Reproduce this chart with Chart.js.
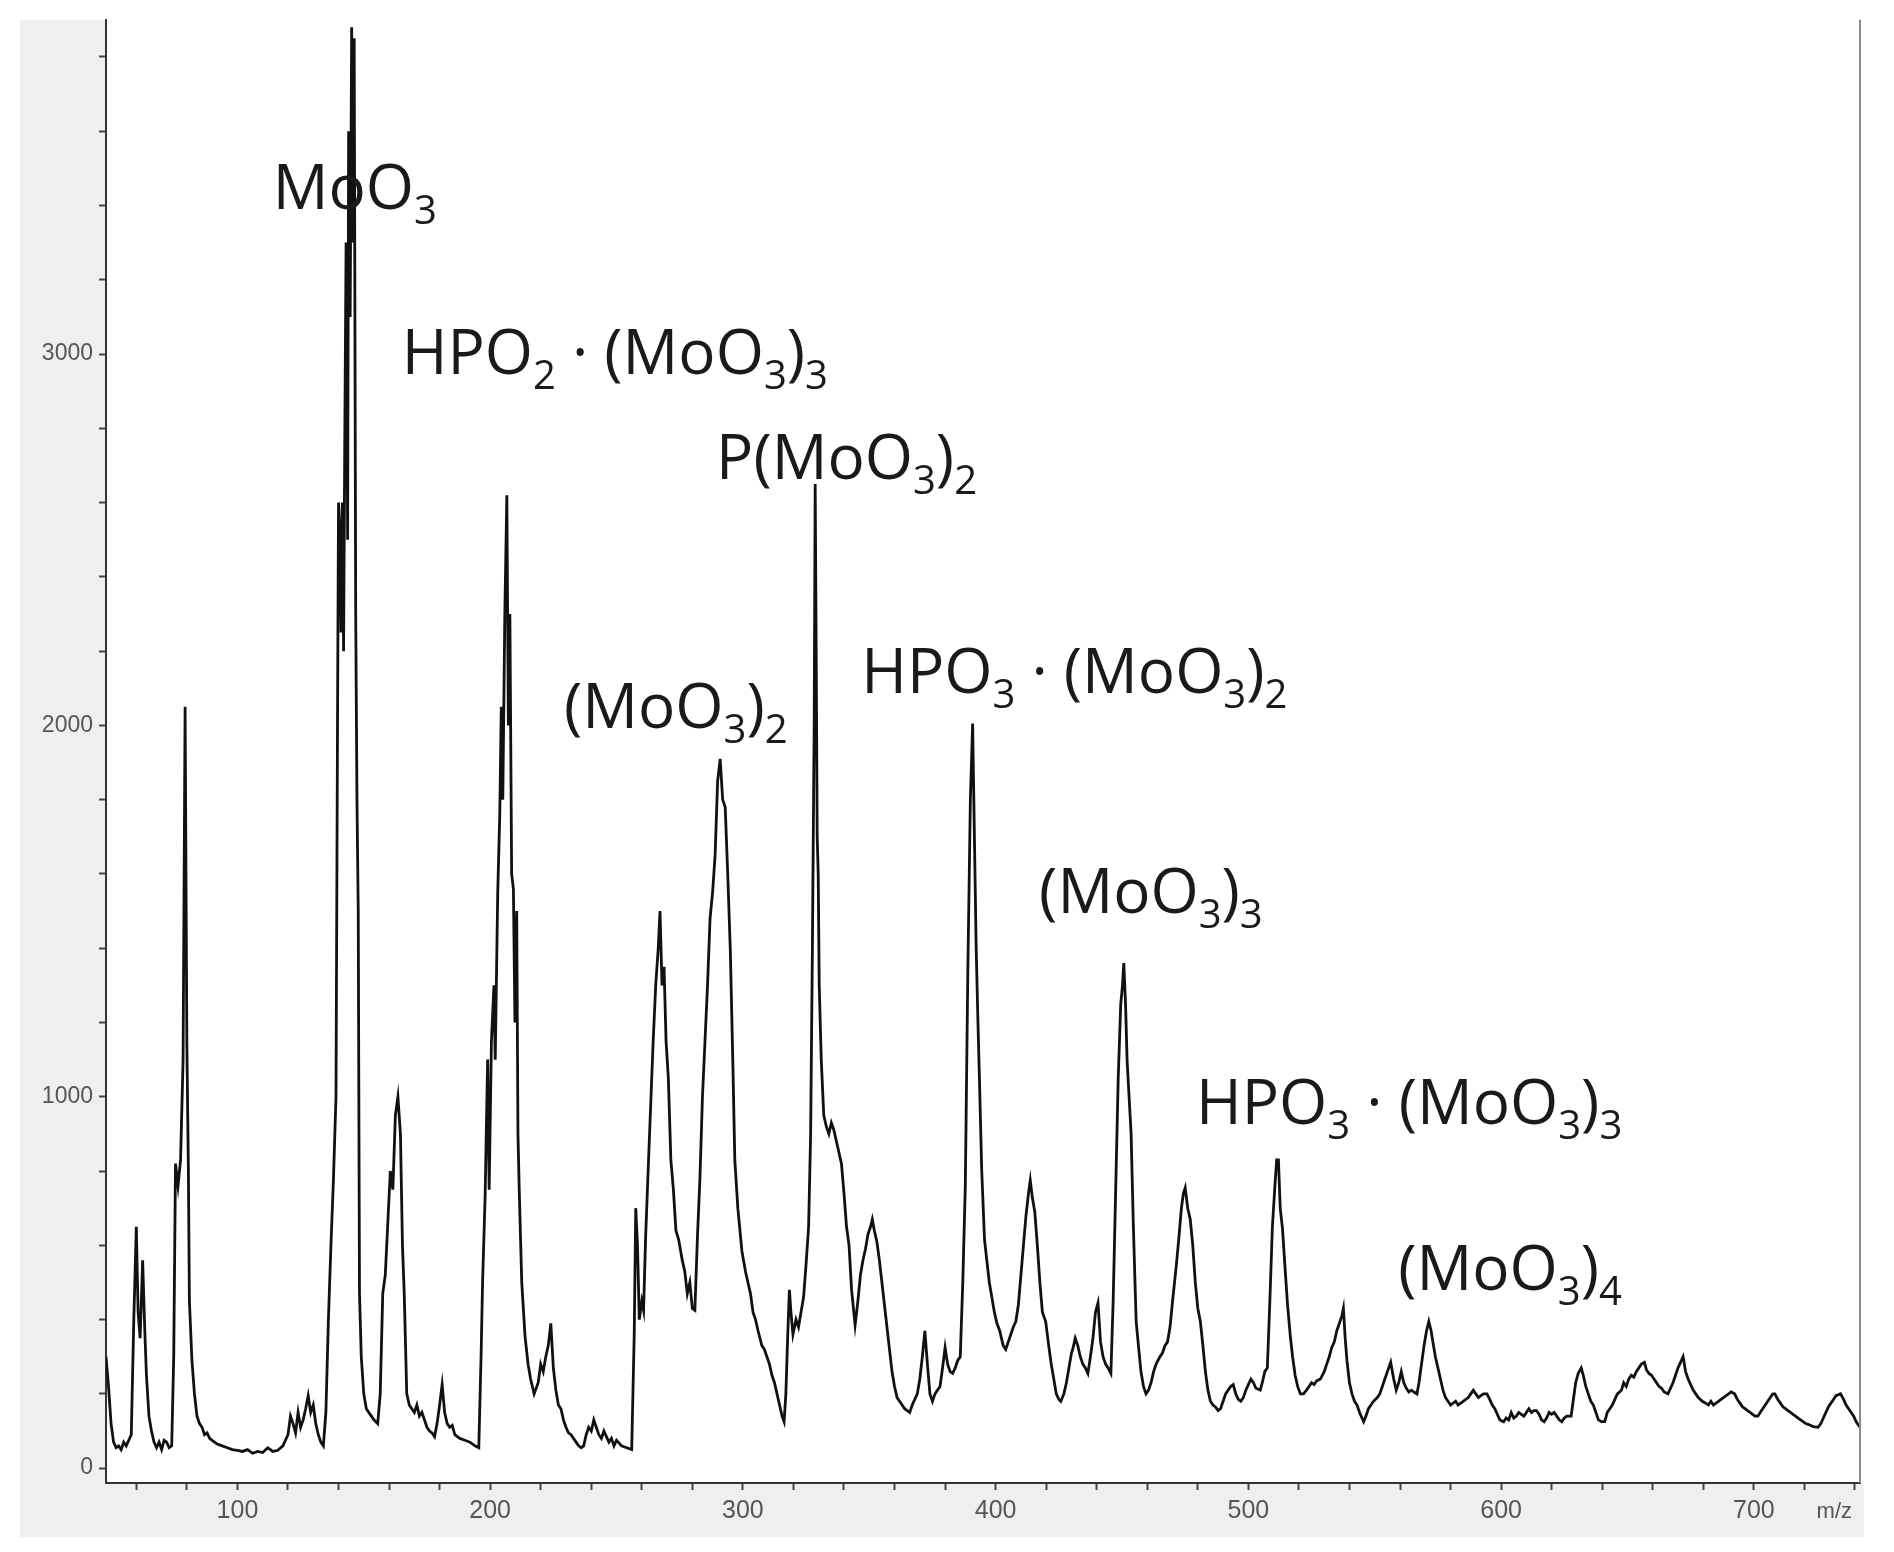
<!DOCTYPE html>
<html>
<head>
<meta charset="utf-8">
<script src="https://cdn.jsdelivr.net/npm/chart.js@4/dist/chart.umd.min.js"></script>
<style>
    body { margin: 0; background: #ffffff; }
    #wrap { width: 1894px; height: 1552px; position: relative; }
</style>
</head>
<body>
<div id="wrap"><canvas id="spectrum"></canvas></div>
<script>
// m/z positions
const mz = [
    48, 49, 50, 51, 52, 53, 54, 55, 56, 57, 58, 59, 60, 60.7, 61.5, 62.5, 63.3, 64, 65, 66,
    67, 68, 69, 70, 71, 72, 73, 74, 74.8, 75.5, 76.5, 77.5, 78.5, 79.3, 80, 80.6, 81, 82, 83, 84,
    85, 86, 87, 88, 89, 90, 92, 94, 96, 98, 100, 102, 104, 106, 108, 110, 112, 114, 116, 118,
    120, 121, 122, 123, 124, 125, 126, 127, 128, 129, 130, 131, 132, 133, 134, 135, 136, 137, 138, 139,
    139.6, 140, 140.6, 141, 141.5, 142, 142.5, 143, 143.6, 144, 144.6, 145.2, 145.6, 146.2, 146.8, 147.3, 147.8, 148.3, 149, 150,
    151, 152, 153, 154, 155.5, 156.5, 157.5, 158.5, 159.5, 160.5, 161.5, 162.5, 163.5, 164.5, 165.3, 166, 167, 168, 169, 170,
    171, 172, 173, 174, 175, 176, 177, 178, 179, 180, 181, 182, 183, 184, 185, 186, 188, 190, 192, 194,
    195.5, 196.4, 197, 198, 199, 199.6, 200.5, 201.5, 202, 203, 203.8, 204.4, 205, 205.8, 206.6, 207.2, 207.8, 208.5, 209.2, 209.8,
    210.5, 211, 211.5, 212.5, 213.8, 215, 216, 217.4, 219, 220, 221, 222, 223, 224, 225, 226, 227, 228, 229, 230,
    231, 232, 233, 234, 235, 236, 237, 238, 239, 240, 241, 242, 243, 244, 245, 246, 247, 248, 249, 250,
    252, 254, 256, 257, 257.6, 258.3, 259, 260, 260.7, 261.5, 262.5, 263.5, 264.5, 265.5, 266.5, 267.2, 268, 268.8, 269.6, 270.5,
    271.5, 272.5, 273.5, 274.6, 276, 277, 278, 279, 280, 281, 282, 283, 284, 285, 286, 287, 288, 289, 290, 291,
    292, 293, 294, 295, 296, 296.8, 298, 299.6, 301, 302, 303, 304, 305, 306, 307.5, 308.5, 309.5, 310.5, 311.5, 312.5,
    313.5, 314.5, 315.5, 316.3, 317, 317.7, 318.4, 319, 319.8, 321, 322, 323, 324, 325, 326, 326.8, 327.5, 328.2, 328.6, 329,
    329.4, 329.8, 330.2, 331, 332, 333, 334, 335, 336, 337, 338, 339, 340, 341, 342, 343, 344.4, 345.5, 346.5, 347.5,
    348.5, 349.5, 350.5, 351.2, 352, 353, 354, 355, 356, 357, 358, 359, 360, 361, 362, 363, 364, 365, 366, 367,
    368, 369, 370, 371, 372, 373, 374, 375, 376, 377, 378, 379, 380, 381, 382, 383, 384, 385, 386, 387,
    388, 389, 390, 390.9, 391.6, 392.3, 393, 393.6, 394.5, 395.6, 396.5, 397.5, 398.5, 399.5, 400.5, 401.6, 403, 404, 405, 406,
    407, 408, 409, 410, 411, 412, 413, 413.7, 414.5, 415.5, 416.5, 417.5, 418.5, 419.8, 421, 422, 423, 424, 425, 425.8,
    427, 428, 429, 430, 430.5, 431.5, 432.5, 433.5, 434.5, 435.5, 436.5, 437.5, 438.5, 439.5, 440.5, 441.5, 442.5, 443.5, 444.5, 445.6,
    446.5, 447.5, 448.5, 449.5, 450.2, 450.7, 451.4, 452, 452.8, 453.6, 454.5, 455.6, 456.5, 457.5, 458.5, 459.5, 460.5, 461.5, 462.5, 463.5,
    465, 466, 467, 468, 469, 470, 471.4, 472.5, 473.5, 474.3, 475, 476, 477, 478, 479, 480, 481, 482, 483, 484,
    485, 486, 487, 488, 489, 490, 491, 492, 493, 494, 495, 496, 497, 498, 499, 500, 501, 502, 503, 504.7,
    505.5, 506.5, 507.5, 508.5, 509.5, 510.5, 511.2, 511.9, 512.6, 513.5, 514.5, 515.5, 516.6, 517.5, 518.5, 519.5, 520.6, 521.8, 523, 524,
    525, 526, 527, 528.5, 530, 531, 532, 533, 534, 535, 536, 537, 537.6, 538.3, 539, 540, 541, 542, 543, 544,
    545.6, 546.5, 547.5, 548.5, 549.5, 551, 552, 553, 554, 555, 556.3, 557.5, 558.5, 559.5, 560.5, 561.5, 562.5, 563.5, 564.5, 565.5,
    566.7, 567.5, 568.5, 569.5, 570.5, 571.4, 572.3, 573, 574, 575, 576, 577, 578, 579, 580, 581, 582, 583, 584, 585,
    586, 587, 588, 589, 590, 591, 592, 593, 594.4, 595.5, 596.5, 597.5, 598.5, 599.5, 601, 602, 603, 604, 605, 606,
    607, 608, 609, 610, 611, 612, 613, 614, 615, 616, 617, 618, 619, 620, 621, 622, 623, 624, 625, 626,
    627.7, 628.5, 629.5, 630.5, 631.7, 632.5, 633.5, 634.5, 635.5, 636.5, 637.5, 638.5, 639.7, 641, 642, 643, 644, 645, 646, 647.6,
    648.5, 649.5, 650.5, 651.5, 652.5, 653.5, 654.5, 655.5, 656.7, 657.5, 658.5, 659.5, 660.5, 661.5, 662.5, 663.5, 664.5, 666, 667, 668,
    669, 670, 671, 672, 673, 674, 675, 676, 677, 678, 679.6, 681, 682, 683, 684, 685, 686, 687, 688, 689,
    690, 691, 692.4, 693.5, 694.5, 695.5, 696.5, 697.5, 698.5, 699.5, 700.5, 701.6, 702.5, 703.5, 704.5, 705.5, 706.5, 707.5, 708.3, 709.5,
    710.5, 711.5, 712.5, 713.5, 714.5, 715.5, 716.5, 717.5, 718.5, 719.5, 720.5, 721.5, 722.5, 723.5, 725.4, 726.5, 727.5, 728.5, 729.5, 730.5,
    731.5, 732.5, 734.3, 735.5, 736.5, 737.5, 738.5, 739.5, 740.5, 741.5, 742
];

// intensity at each m/z above
const intensity = [
    300, 220, 120, 70, 55, 60, 50, 70, 60, 75, 90, 400, 650, 420, 350, 560, 380, 250, 140, 100,
    70, 55, 70, 50, 75, 70, 55, 60, 300, 820, 760, 830, 1100, 2050, 1140, 800, 450, 290, 200, 140,
    120, 110, 90, 95, 80, 75, 65, 60, 55, 50, 48, 45, 50, 40, 45, 42, 55, 45, 48, 60,
    90, 140, 120, 95, 150, 110, 130, 160, 195, 150, 170, 120, 90, 70, 60, 150, 400, 600, 780, 1000,
    2000, 2600, 2500, 2250, 2600, 2200, 2800, 3300, 2500, 3600, 3100, 3880, 3300, 3850, 2300, 1800, 1500, 470, 300, 200,
    160, 150, 140, 130, 120, 200, 470, 520, 660, 800, 750, 950, 1000, 900, 600, 470, 200, 170, 160, 150,
    170, 140, 150, 130, 110, 100, 95, 85, 120, 170, 225, 150, 120, 110, 115, 90, 80, 75, 70, 60,
    55, 300, 500, 730, 1100, 750, 1150, 1300, 1100, 1550, 1760, 2050, 1800, 2300, 2620, 2000, 2300, 1600, 1560, 1200,
    1500, 900, 750, 500, 355, 280, 240, 200, 230, 280, 260, 300, 330, 390, 270, 210, 170, 160, 130, 110,
    95, 90, 80, 70, 60, 55, 60, 90, 110, 100, 130, 110, 90, 80, 100, 85, 70, 80, 60, 75,
    60, 55, 50, 360, 700, 600, 400, 450, 425, 620, 800, 975, 1150, 1300, 1400, 1500, 1300, 1350, 1150, 1050,
    830, 750, 640, 615, 560, 530, 470, 500, 430, 425, 620, 780, 1000, 1150, 1300, 1480, 1550, 1650, 1850, 1910,
    1800, 1780, 1600, 1400, 1100, 830, 700, 585, 530, 500, 470, 420, 400, 370, 330, 320, 300, 280, 250, 230,
    200, 170, 140, 125, 200, 350, 480, 420, 360, 400, 380, 420, 460, 550, 650, 900, 1400, 2000, 2650, 2200,
    1700, 1600, 1300, 1100, 950, 920, 900, 930, 910, 880, 850, 820, 740, 650, 600, 480, 385, 450, 520, 560,
    590, 630, 650, 670, 640, 610, 560, 500, 440, 380, 320, 260, 220, 190, 180, 170, 160, 155, 150, 170,
    185, 200, 240, 300, 370, 280, 200, 180, 200, 210, 220, 270, 325, 280, 260, 255, 270, 290, 300, 500,
    760, 1340, 1800, 2005, 1700, 1400, 1200, 1045, 800, 615, 560, 500, 460, 420, 390, 370, 330, 320, 340, 360,
    380, 395, 440, 520, 600, 680, 740, 775, 730, 690, 600, 500, 420, 395, 330, 280, 240, 200, 185, 180,
    200, 230, 270, 310, 320, 350, 330, 300, 280, 270, 255, 300, 350, 420, 445, 340, 300, 280, 270, 255,
    450, 750, 1050, 1250, 1300, 1360, 1250, 1100, 1000, 900, 650, 395, 330, 260, 220, 200, 210, 230, 260, 280,
    300, 310, 330, 340, 380, 450, 540, 620, 700, 740, 755, 700, 670, 600, 500, 430, 395, 330, 260, 210,
    180, 170, 165, 155, 160, 180, 200, 210, 220, 225, 200, 185, 180, 190, 210, 225, 240, 230, 215, 210,
    230, 260, 270, 450, 650, 760, 830, 830, 700, 645, 540, 440, 355, 300, 250, 220, 200, 200, 210, 220,
    230, 225, 235, 240, 260, 280, 300, 325, 340, 370, 390, 410, 430, 350, 290, 230, 200, 180, 170, 150,
    125, 140, 160, 170, 180, 190, 200, 220, 240, 260, 285, 240, 210, 230, 260, 230, 215, 205, 210, 205,
    200, 230, 280, 330, 370, 395, 370, 340, 300, 270, 240, 210, 190, 180, 170, 175, 180, 170, 175, 180,
    185, 190, 200, 210, 200, 190, 195, 200, 200, 185, 170, 160, 145, 130, 125, 135, 130, 150, 135, 140,
    150, 145, 140, 150, 160, 150, 155, 155, 145, 130, 125, 135, 150, 145, 150, 140, 130, 125, 135, 140,
    140, 180, 230, 255, 270, 250, 220, 200, 180, 170, 150, 130, 125, 125, 150, 160, 170, 185, 200, 210,
    230, 220, 240, 250, 245, 260, 270, 280, 285, 265, 255, 250, 240, 230, 220, 215, 205, 200, 215, 230,
    250, 270, 285, 300, 260, 240, 225, 210, 200, 190, 180, 175, 170, 180, 170, 175, 180, 185, 190, 195,
    200, 205, 200, 185, 175, 165, 160, 155, 150, 145, 140, 140, 150, 160, 170, 180, 190, 200, 200, 185,
    175, 165, 160, 155, 150, 145, 140, 135, 130, 125, 120, 118, 115, 112, 110, 120, 135, 150, 165, 175,
    185, 195, 200, 185, 170, 160, 150, 140, 125, 115, 110
];

// peak annotations: "_d" marks a subscript digit
const peakLabels = [
    'MoO_3',
    'HPO_2 · (MoO_3)_3',
    'P(MoO_3)_2',
    '(MoO_3)_2',
    'HPO_3 · (MoO_3)_2',
    '(MoO_3)_3',
    'HPO_3 · (MoO_3)_3',
    '(MoO_3)_4'
];
const labelMz = [114, 165, 289.4, 229.2, 346.8, 417.2, 479.3, 559.3];
const labelIntensity = [3390, 2945, 2663, 1993, 2087, 1495, 928, 481];

const points = mz.map((m, i) => ({ x: m, y: intensity[i] }));

// grey strips left of and below the white plot area, plus the right border line
const framePlugin = {
    id: 'frame',
    beforeDraw(chart) {
        const ctx = chart.ctx;
        const area = chart.chartArea;
        ctx.save();
        ctx.fillStyle = '#efefef';
        // left strip
        ctx.fillRect(20, area.top, area.left - 20, area.bottom - area.top);
        // bottom strip
        ctx.fillRect(20, area.bottom, area.right + 4 - 20, 1537 - area.bottom);
        ctx.restore();
    },
    afterDraw(chart) {
        const ctx = chart.ctx;
        const area = chart.chartArea;
        ctx.save();
        ctx.strokeStyle = '#8a8a8a';
        ctx.lineWidth = 2;
        ctx.beginPath();
        ctx.moveTo(area.right, area.top);
        ctx.lineTo(area.right, area.bottom);
        ctx.stroke();

        ctx.fillStyle = '#555';
        ctx.font = '22px "Liberation Sans", Arial, sans-serif';
        ctx.textAlign = 'right';
        ctx.textBaseline = 'middle';
        ctx.fillText('m/z', area.right - 8, 1512);
        ctx.restore();
    }
};

const labelPlugin = {
    id: 'peakLabels',
    afterDatasetsDraw(chart) {
        const ctx = chart.ctx;
        const xs = chart.scales.x;
        const ys = chart.scales.y;
        const mainFont = '62px "Open Sans", sans-serif';
        const subFont = '40px "Open Sans", sans-serif';
        ctx.save();
        ctx.fillStyle = '#1a1a1a';
        ctx.textAlign = 'left';
        ctx.textBaseline = 'alphabetic';
        peakLabels.forEach((label, i) => {
            let px = xs.getPixelForValue(labelMz[i]);
            const py = ys.getPixelForValue(labelIntensity[i]);
            const parts = label.split(/(_\d)/).filter(s => s.length);
            for (const part of parts) {
                if (part[0] === '_') {
                    ctx.font = subFont;
                    ctx.fillText(part.slice(1), px, py + 15);
                    px += ctx.measureText(part.slice(1)).width;
                } else {
                    ctx.font = mainFont;
                    ctx.fillText(part, px, py);
                    px += ctx.measureText(part).width;
                }
            }
        });
        ctx.restore();
    }
};

const ctx = document.getElementById('spectrum').getContext('2d');
new Chart(ctx, {
    type: 'line',
    data: {
        datasets: [{
            data: points,
            borderColor: '#111111',
            borderWidth: 2.8,
            pointRadius: 0,
            tension: 0,
            fill: false
        }]
    },
    options: {
        responsive: true,
        maintainAspectRatio: false,
        animation: false,
        layout: { padding: { left: 0, top: 18, right: 34, bottom: 0 } },
        plugins: {
            legend: { display: false },
            tooltip: { enabled: false }
        },
        scales: {
            x: {
                type: 'linear',
                min: 48,
                max: 742,
                afterFit(scale) { scale.height = 69; },
                border: { display: true, color: '#333', width: 2 },
                grid: { display: true, drawOnChartArea: false, drawTicks: true, tickLength: 7, color: '#444', tickWidth: 2 },
                ticks: {
                    stepSize: 20,
                    includeBounds: false,
                    autoSkip: false,
                    maxRotation: 0,
                    padding: 6,
                    color: '#555',
                    font: { family: '"Liberation Sans", Arial, sans-serif', size: 25 },
                    callback: v => (v % 100 === 0 ? v : '')
                }
            },
            y: {
                min: -40,
                max: 3900,
                afterFit(scale) { scale.width = 106; },
                border: { display: true, color: '#333', width: 2 },
                grid: { display: true, drawOnChartArea: false, drawTicks: true, tickLength: 7, color: '#444', tickWidth: 2 },
                ticks: {
                    stepSize: 200,
                    includeBounds: false,
                    autoSkip: false,
                    padding: 6,
                    color: '#555',
                    font: { family: '"Liberation Sans", Arial, sans-serif', size: 23 },
                    callback: v => (v % 1000 === 0 ? v : '')
                }
            }
        }
    },
    plugins: [framePlugin, labelPlugin]
});
</script>
</body>
</html>
